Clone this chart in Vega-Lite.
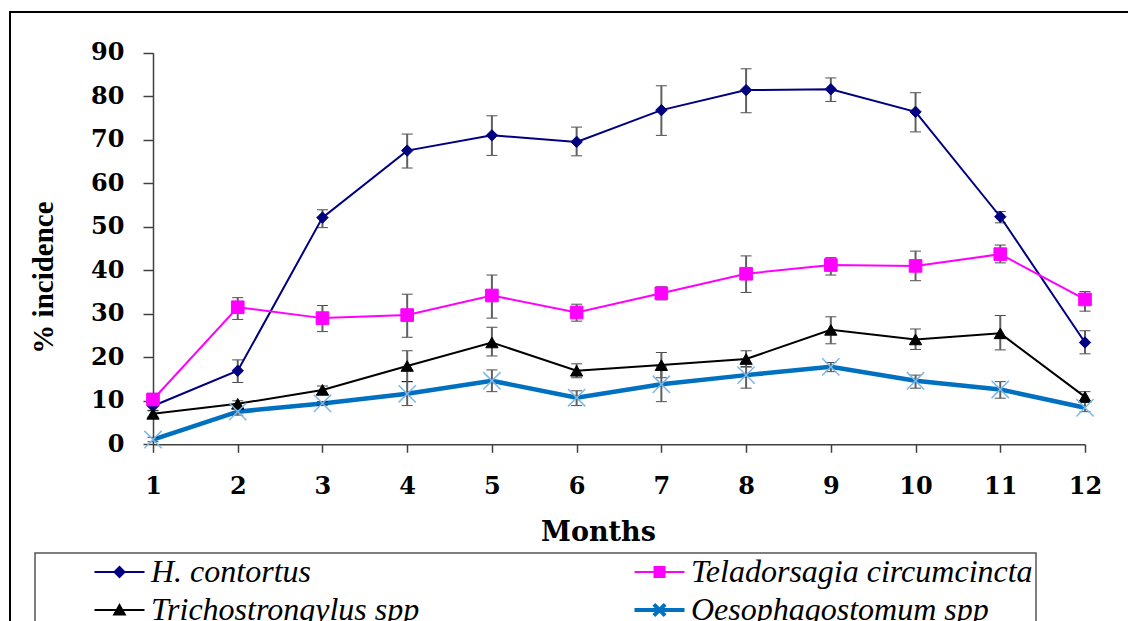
{
  "$schema": "https://vega.github.io/schema/vega-lite/v6.json",
  "autosize": {"type": "none"},
  "padding": {"left": 10, "top": 12, "right": 0, "bottom": 0},
  "width": 1118,
  "height": 609,
  "background": "white",
  "config": {
    "view": {"stroke": "black", "strokeWidth": 2, "strokeDash": [1118, 1727, 609]},
    "axis": {"grid": false, "domainColor": "#404040", "tickColor": "#404040", "domainWidth": 1.5, "tickWidth": 1.5, "labelColor": "black", "titleColor": "black"},
    "legend": {"strokeWidth": 1.5}
  },
  "data": {
    "values": [
      {"series": "H. contortus", "month": 1, "value": 8.8, "lo": 7.8, "hi": 9.8},
      {"series": "H. contortus", "month": 2, "value": 16.9, "lo": 14.2, "hi": 19.4},
      {"series": "H. contortus", "month": 3, "value": 52.1, "lo": 49.8, "hi": 53.9},
      {"series": "H. contortus", "month": 4, "value": 67.5, "lo": 63.5, "hi": 71.3},
      {"series": "H. contortus", "month": 5, "value": 71.0, "lo": 66.4, "hi": 75.5},
      {"series": "H. contortus", "month": 6, "value": 69.5, "lo": 66.3, "hi": 72.9},
      {"series": "H. contortus", "month": 7, "value": 76.8, "lo": 71.0, "hi": 82.4},
      {"series": "H. contortus", "month": 8, "value": 81.4, "lo": 76.2, "hi": 86.3},
      {"series": "H. contortus", "month": 9, "value": 81.6, "lo": 78.8, "hi": 84.2},
      {"series": "H. contortus", "month": 10, "value": 76.4, "lo": 71.8, "hi": 80.8},
      {"series": "H. contortus", "month": 11, "value": 52.3, "lo": 50.9, "hi": 53.5},
      {"series": "H. contortus", "month": 12, "value": 23.4, "lo": 20.8, "hi": 26.1},
      {"series": "Teladorsagia circumcincta", "month": 1, "value": 10.3, "lo": 9.0, "hi": 11.7},
      {"series": "Teladorsagia circumcincta", "month": 2, "value": 31.5, "lo": 28.7, "hi": 33.7},
      {"series": "Teladorsagia circumcincta", "month": 3, "value": 29.0, "lo": 25.9, "hi": 31.9},
      {"series": "Teladorsagia circumcincta", "month": 4, "value": 29.7, "lo": 24.6, "hi": 34.5},
      {"series": "Teladorsagia circumcincta", "month": 5, "value": 34.2, "lo": 29.0, "hi": 38.9},
      {"series": "Teladorsagia circumcincta", "month": 6, "value": 30.3, "lo": 28.3, "hi": 32.2},
      {"series": "Teladorsagia circumcincta", "month": 7, "value": 34.7, "lo": 33.2, "hi": 36.2},
      {"series": "Teladorsagia circumcincta", "month": 8, "value": 39.2, "lo": 34.9, "hi": 43.3},
      {"series": "Teladorsagia circumcincta", "month": 9, "value": 41.2, "lo": 38.9, "hi": 42.9},
      {"series": "Teladorsagia circumcincta", "month": 10, "value": 41.0, "lo": 37.6, "hi": 44.4},
      {"series": "Teladorsagia circumcincta", "month": 11, "value": 43.7, "lo": 41.7, "hi": 45.8},
      {"series": "Teladorsagia circumcincta", "month": 12, "value": 33.3, "lo": 30.6, "hi": 35.1},
      {"series": "Trichostrongylus spp", "month": 1, "value": 7.0, "lo": 6.3, "hi": 7.7},
      {"series": "Trichostrongylus spp", "month": 2, "value": 9.3, "lo": 8.6, "hi": 10.0},
      {"series": "Trichostrongylus spp", "month": 3, "value": 12.5, "lo": 11.6, "hi": 13.4},
      {"series": "Trichostrongylus spp", "month": 4, "value": 18.0, "lo": 14.4, "hi": 21.5},
      {"series": "Trichostrongylus spp", "month": 5, "value": 23.4, "lo": 20.3, "hi": 26.9},
      {"series": "Trichostrongylus spp", "month": 6, "value": 16.9, "lo": 15.3, "hi": 18.5},
      {"series": "Trichostrongylus spp", "month": 7, "value": 18.2, "lo": 15.3, "hi": 21.1},
      {"series": "Trichostrongylus spp", "month": 8, "value": 19.6, "lo": 17.8, "hi": 21.5},
      {"series": "Trichostrongylus spp", "month": 9, "value": 26.3, "lo": 23.1, "hi": 29.3},
      {"series": "Trichostrongylus spp", "month": 10, "value": 24.1, "lo": 21.8, "hi": 26.5},
      {"series": "Trichostrongylus spp", "month": 11, "value": 25.5, "lo": 21.7, "hi": 29.6},
      {"series": "Trichostrongylus spp", "month": 12, "value": 10.9, "lo": 9.8, "hi": 12.1},
      {"series": "Oesophagostomum spp", "month": 1, "value": 1.1, "lo": 0.6, "hi": 1.6},
      {"series": "Oesophagostomum spp", "month": 2, "value": 7.5, "lo": 6.7, "hi": 8.3},
      {"series": "Oesophagostomum spp", "month": 3, "value": 9.4, "lo": 9.0, "hi": 9.8},
      {"series": "Oesophagostomum spp", "month": 4, "value": 11.6, "lo": 8.9, "hi": 14.4},
      {"series": "Oesophagostomum spp", "month": 5, "value": 14.6, "lo": 12.1, "hi": 17.1},
      {"series": "Oesophagostomum spp", "month": 6, "value": 10.7, "lo": 8.9, "hi": 12.3},
      {"series": "Oesophagostomum spp", "month": 7, "value": 13.8, "lo": 9.8, "hi": 17.8},
      {"series": "Oesophagostomum spp", "month": 8, "value": 15.9, "lo": 12.9, "hi": 17.8},
      {"series": "Oesophagostomum spp", "month": 9, "value": 17.8, "lo": 16.7, "hi": 18.8},
      {"series": "Oesophagostomum spp", "month": 10, "value": 14.6, "lo": 12.9, "hi": 15.9},
      {"series": "Oesophagostomum spp", "month": 11, "value": 12.6, "lo": 10.6, "hi": 14.4},
      {"series": "Oesophagostomum spp", "month": 12, "value": 8.4, "lo": 7.5, "hi": 9.6}
    ]
  },
  "layer": [
    {
      "mark": {"type": "line"},
      "encoding": {
        "x": {
          "field": "month", "type": "quantitative",
          "scale": {"domain": [1, 12], "range": [143, 1075], "nice": false, "zero": false},
          "axis": {
            "title": "Months", "values": [1,2,3,4,5,6,7,8,9,10,11,12], "format": "d",
            "offset": -176.7, "tickSize": 8, "labelPadding": 22, "labelFlush": false, "labelOverlap": false,
            "labelFont": "DejaVu Serif", "labelFontWeight": "bold", "labelFontSize": 24,
            "titleFont": "DejaVu Serif", "titleFontWeight": "bold", "titleFontSize": 27,
            "titleX": 588, "titleY": 96, "titleBaseline": "alphabetic", "titleAlign": "center"
          }
        },
        "y": {
          "field": "value", "type": "quantitative", "title": "% incidence",
          "scale": {"domain": [0, 90], "range": [432.3, 40.7], "nice": false},
          "axis": {
            "title": "% incidence", "values": [0,10,20,30,40,50,60,70,80,90],
            "offset": -143, "tickSize": 10, "labelPadding": 19, "labelFlush": false, "labelOverlap": false,
            "labelFont": "DejaVu Serif", "labelFontWeight": "bold", "labelFontSize": 24,
            "titleFont": "Liberation Serif", "titleFontWeight": "bold", "titleFontSize": 29,
            "titleX": -101, "titleY": 265, "titleAngle": -90, "titleBaseline": "alphabetic", "titleAlign": "center"
          }
        },
        "color": {
          "field": "series", "type": "nominal",
          "scale": {
            "domain": ["H. contortus", "Trichostrongylus spp", "Teladorsagia circumcincta", "Oesophagostomum spp"],
            "range": ["#000080", "#000000", "#FF00FF", "#0070C0"]
          },
          "legend": {
            "title": null, "orient": "none", "legendX": 25, "legendY": 541,
            "columns": 2, "columnPadding": 158, "rowPadding": 6, "padding": 3,
            "strokeColor": "#555555",
            "labelFont": "Liberation Serif", "labelFontStyle": "italic", "labelFontSize": 32,
            "labelColor": "black", "labelLimit": 1000, "labelOffset": 28,
            "symbolSize": 625, "symbolOffset": 53,
            "encode": {
              "symbols": {
                "update": {
                  "shape": {"signal": "datum.value === 'H. contortus' ? 'M-1,0H3M0.6,0L1,-0.4L1.4,0L1,0.4Z' : datum.value === 'Teladorsagia circumcincta' ? 'M-1,0H3M0.6,-0.4H1.4V0.4H0.6Z' : datum.value === 'Trichostrongylus spp' ? 'M-1,0H3M0.58,0.35L1,-0.4L1.42,0.35Z' : 'M-1,0H3M0.55,-0.45L1.45,0.45M0.55,0.45L1.45,-0.45'"},
                  "fill": {"signal": "datum.value === 'H. contortus' ? '#000080' : datum.value === 'Teladorsagia circumcincta' ? '#FF00FF' : datum.value === 'Trichostrongylus spp' ? '#000000' : 'transparent'"},
                  "strokeWidth": {"signal": "datum.value === 'Oesophagostomum spp' ? 4 : 2"},
                  "size": {"value": 625},
                  "opacity": {"value": 1}
                }
              }
            }
          }
        },
        "strokeWidth": {"condition": {"test": "datum.series === 'Oesophagostomum spp'", "value": 4.5}, "value": 2}
      }
    },
    {
      "mark": {"type": "errorbar", "ticks": {"color": "black", "size": 11, "strokeWidth": 1.5}, "rule": {"color": "#606060", "strokeWidth": 2}},
      "encoding": {
        "x": {"field": "month", "type": "quantitative"},
        "y": {"field": "lo", "type": "quantitative", "title": "% incidence"},
        "y2": {"field": "hi"}
      }
    },
    {
      "transform": [{"filter": "datum.series === 'H. contortus'"}],
      "mark": {"type": "point", "shape": "M0,-1L1,0L0,1L-1,0Z", "filled": true, "fill": "#000080", "stroke": "#000080", "strokeWidth": 1, "size": 130, "opacity": 1},
      "encoding": {
        "x": {"field": "month", "type": "quantitative"},
        "y": {"field": "value", "type": "quantitative", "title": "% incidence"}
      }
    },
    {
      "transform": [{"filter": "datum.series === 'Teladorsagia circumcincta'"}],
      "mark": {"type": "point", "shape": "square", "filled": true, "fill": "#FF00FF", "stroke": "#FF00FF", "strokeWidth": 1, "size": 160, "opacity": 1},
      "encoding": {
        "x": {"field": "month", "type": "quantitative"},
        "y": {"field": "value", "type": "quantitative", "title": "% incidence"}
      }
    },
    {
      "transform": [{"filter": "datum.series === 'Trichostrongylus spp'"}],
      "mark": {"type": "point", "shape": "triangle-up", "filled": true, "fill": "#000000", "stroke": "#000000", "strokeWidth": 1, "size": 150, "opacity": 1},
      "encoding": {
        "x": {"field": "month", "type": "quantitative"},
        "y": {"field": "value", "type": "quantitative", "title": "% incidence"}
      }
    },
    {
      "transform": [{"filter": "datum.series === 'Oesophagostomum spp'"}],
      "mark": {"type": "point", "shape": "M-1,-1L1,1M-1,1L1,-1", "filled": false, "stroke": "#7DB7E8", "strokeWidth": 1.5, "size": 300, "opacity": 1},
      "encoding": {
        "x": {"field": "month", "type": "quantitative"},
        "y": {"field": "value", "type": "quantitative", "title": "% incidence"}
      }
    }
  ]
}
